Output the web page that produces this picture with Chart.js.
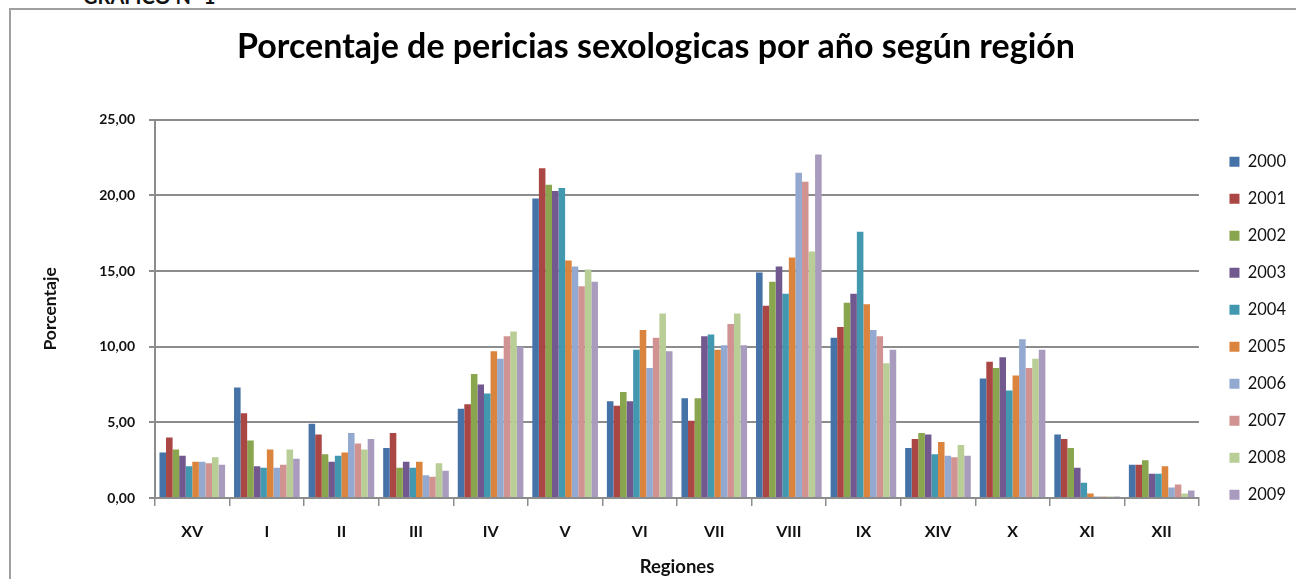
<!DOCTYPE html>
<html lang="es">
<head>
<meta charset="utf-8">
<title>Porcentaje de pericias sexologicas</title>
<script src="https://cdn.jsdelivr.net/npm/chart.js@4.4.1/dist/chart.umd.min.js"></script>
<style>
    html, body { margin: 0; padding: 0; background: #fff; overflow: hidden; }
    #wrap { position: relative; width: 1296px; height: 579px; }
    .frame { position: absolute; left: 9px; top: 8px; width: 1400px; height: 700px;
             border-left: 2px solid #a0a0a0; border-top: 2px solid #a0a0a0; }
    .caption { position: absolute; left: 83px; top: -16px; font: bold 20px Lato, sans-serif; color: #111; }
    #sexChart { position: absolute; left: 0; top: 0; }
</style>
</head>
<body>
<div id="wrap">
    <div class="frame"></div>
    <div class="caption">GRÁFICO Nº 1</div>
    <canvas id="sexChart" width="1296" height="579"></canvas>
</div>
<script>
// --- données ---
const regions = ['XV', 'I', 'II', 'III', 'IV', 'V', 'VI', 'VII', 'VIII', 'IX', 'XIV', 'X', 'XI', 'XII'];
const years = ['2000', '2001', '2002', '2003', '2004', '2005', '2006', '2007', '2008', '2009'];
const yTicks = [0, 5, 10, 15, 20, 25];

const y2000 = [3.0, 7.3, 4.9, 3.3, 5.9, 19.8, 6.4, 6.6, 14.9, 10.6, 3.3, 7.9, 4.2, 2.2];
const y2001 = [4.0, 5.6, 4.2, 4.3, 6.2, 21.8, 6.1, 5.1, 12.7, 11.3, 3.9, 9.0, 3.9, 2.2];
const y2002 = [3.2, 3.8, 2.9, 2.0, 8.2, 20.7, 7.0, 6.6, 14.3, 12.9, 4.3, 8.6, 3.3, 2.5];
const y2003 = [2.8, 2.1, 2.4, 2.4, 7.5, 20.3, 6.4, 10.7, 15.3, 13.5, 4.2, 9.3, 2.0, 1.6];
const y2004 = [2.1, 2.0, 2.8, 2.0, 6.9, 20.5, 9.8, 10.8, 13.5, 17.6, 2.9, 7.1, 1.0, 1.6];
const y2005 = [2.4, 3.2, 3.0, 2.4, 9.7, 15.7, 11.1, 9.8, 15.9, 12.8, 3.7, 8.1, 0.3, 2.1];
const y2006 = [2.4, 2.0, 4.3, 1.5, 9.2, 15.3, 8.6, 10.1, 21.5, 11.1, 2.8, 10.5, 0.1, 0.7];
const y2007 = [2.3, 2.2, 3.6, 1.4, 10.7, 14.0, 10.6, 11.5, 20.9, 10.7, 2.7, 8.6, 0.1, 0.9];
const y2008 = [2.7, 3.2, 3.2, 2.3, 11.0, 15.1, 12.2, 12.2, 16.3, 8.9, 3.5, 9.2, 0.1, 0.3];
const y2009 = [2.2, 2.6, 3.9, 1.8, 10.0, 14.3, 9.7, 10.1, 22.7, 9.8, 2.8, 9.8, 0.1, 0.5];

const series = [y2000, y2001, y2002, y2003, y2004, y2005, y2006, y2007, y2008, y2009];
const colors = ['#4572A7', '#AA4643', '#89A54E', '#71588F', '#4198AF',
                '#DB843D', '#93A9CF', '#D19392', '#B9CD96', '#A99BBD'];

document.addEventListener('DOMContentLoaded', () => {
    const ctx = document.getElementById('sexChart');

    new Chart(ctx.getContext('2d'), {
        type: 'bar',
        data: {
            labels: regions,
            datasets: years.map((yr, i) => ({
                label: yr,
                data: series[i],
                backgroundColor: colors[i],
                borderWidth: 0,
                categoryPercentage: 0.88,
                barPercentage: 1.0
            }))
        },
        options: {
            responsive: false,
            animation: false,
            layout: { padding: { left: 16 } },
            plugins: {
                title: {
                    display: true,
                    text: 'Porcentaje de pericias sexologicas por año según región',
                    color: '#000',
                    font: { family: 'Lato', size: 34, weight: 'bold', lineHeight: 1.2 },
                    padding: { top: 27, bottom: 52 }
                },
                legend: {
                    position: 'right',
                    align: 'start',
                    fullSize: true,
                    // empty title only used to push the items down
                    title: { display: true, text: '', font: { size: 10, lineHeight: 1.25 }, padding: { top: 120.5, bottom: 0 } },
                    labels: {
                        boxWidth: 10, boxHeight: 10, padding: 20.5, color: '#111',
                        font: { family: 'Lato', size: 16.5 }
                    }
                },
                tooltip: { enabled: false }
            },
            scales: {
                x: {
                    grid: { offset: true, drawOnChartArea: false, drawTicks: true, tickLength: 8, color: '#8c8c8c', lineWidth: 1.5 },
                    border: { color: '#8c8c8c', width: 2 },
                    ticks: { color: '#111', padding: 16, font: { family: 'Lato', size: 16, weight: 'bold' } },
                    title: { display: true, text: 'Regiones', color: '#111', padding: { top: 0, bottom: 1 },
                             font: { family: 'Lato', size: 18.5, weight: 'bold' } },
                    afterFit: (scale) => { scale.height = 81; }
                },
                y: {
                    min: 0, max: 25,
                    afterBuildTicks: (scale) => { scale.ticks = yTicks.map(v => ({ value: v })); },
                    grid: { color: '#8c8c8c', lineWidth: 2, tickLength: 6 },
                    border: { color: '#8c8c8c', width: 2 },
                    ticks: {
                        color: '#111', padding: 14,
                        font: { family: 'Lato', size: 14, weight: 'bold' },
                        callback: (v) => v.toFixed(2).replace('.', ',')
                    },
                    title: { display: true, text: 'Porcentaje', color: '#111', padding: { top: 24, bottom: 0 },
                             font: { family: 'Lato', size: 17.5, weight: 'bold' } },
                    afterFit: (scale) => { scale.width = 139; }
                },
                gap: {
                    position: 'right',
                    display: true,
                    grid: { display: false },
                    border: { display: false },
                    ticks: { display: false },
                    afterFit: (scale) => { scale.width = 10; }
                }
            }
        }
    });
});
</script>
</body>
</html>
